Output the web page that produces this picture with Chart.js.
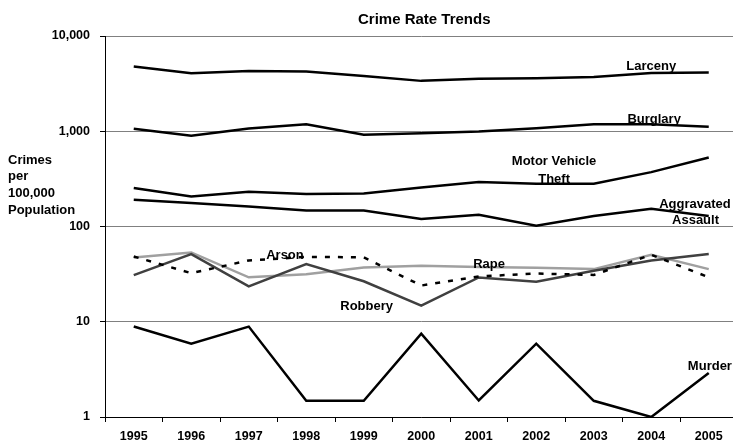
<!DOCTYPE html>
<html>
<head>
<meta charset="utf-8">
<title>Crime Rate Trends</title>
<script src="https://cdn.jsdelivr.net/npm/chart.js@4/dist/chart.umd.min.js"></script>
<style>
  html, body { margin: 0; padding: 0; overflow: hidden; background: #fff; }
  canvas { display: block; }
</style>
</head>
<body>
<canvas id="chart" width="740" height="442"></canvas>
<script>
// Crimes per 100,000 population, 1995-2005
const years = ['1995', '1996', '1997', '1998', '1999', '2000', '2001', '2002', '2003', '2004', '2005'];

const larceny    = [4775, 4070, 4300, 4235, 3810, 3380, 3550, 3610, 3720, 4100, 4130];
const burglary   = [1060, 895, 1067, 1187, 917, 955, 993, 1077, 1187, 1187, 1113];
const motorTheft = [253, 207, 231, 220, 222, 257, 294, 281, 281, 372, 530];
const aggAssault = [191, 176, 162, 147, 147, 120, 133, 102, 129, 154, 129];
const rape       = [47.3, 53.4, 29.3, 31.5, 37.1, 38.7, 37.5, 37.0, 35.7, 50.5, 35.7];
const robbery    = [30.9, 51.3, 23.5, 40.4, 26.6, 14.8, 29.2, 26.3, 34.3, 44.0, 51.3];
const arson      = [48.4, 32.4, 44.0, 48.0, 47.5, 24.0, 29.9, 32.1, 31.0, 50.5, 29.3];
const murder     = [8.9, 5.9, 8.9, 1.48, 1.48, 7.48, 1.49, 5.88, 1.48, 1.0, 2.9];

const yTickValues = [1, 10, 100, 1000, 10000];
const chartTitle = 'Crime Rate Trends';
const yTitleLines = ['Crimes', 'per', '100,000', 'Population'];

// Series name tags, anchored at [category index, value]
const seriesTags = [
  { text: 'Larceny',       at: [9.00, 4775] },
  { text: 'Burglary',      at: [9.05, 1340] },
  { text: 'Motor Vehicle', at: [7.31, 481] },
  { text: 'Theft',         at: [7.31, 309] },
  { text: 'Aggravated',    at: [9.76, 169] },
  { text: 'Assault',       at: [9.77, 115] },
  { text: 'Arson',         at: [2.63, 49.3] },
  { text: 'Rape',          at: [6.18, 40.3] },
  { text: 'Robbery',       at: [4.05, 14.5] },
  { text: 'Murder',        at: [10.02, 3.4] }
];

const FONT = '"Liberation Sans", Arial, Helvetica, sans-serif';

const textPlugin = {
  id: 'crimeText',
  afterDraw(chart) {
    const { ctx, chartArea, scales: { x, y } } = chart;
    ctx.save();
    ctx.fillStyle = '#000';

    // title
    ctx.font = 'bold 15px ' + FONT;
    ctx.textAlign = 'center';
    ctx.textBaseline = 'alphabetic';
    ctx.fillText(chartTitle, (chartArea.left + chartArea.right) / 2 + 3, 24);

    // vertical axis title
    ctx.font = 'bold 13px ' + FONT;
    ctx.textAlign = 'left';
    yTitleLines.forEach((line, i) => ctx.fillText(line, 8, 163.5 + i * 16.8));

    // series tags
    ctx.textAlign = 'center';
    ctx.textBaseline = 'middle';
    for (const t of seriesTags) {
      ctx.fillText(t.text, x.getPixelForValue(t.at[0]), y.getPixelForValue(t.at[1]));
    }
    ctx.restore();
  }
};

function line(label, data, color, extra) {
  return Object.assign({
    label, data,
    borderColor: color,
    backgroundColor: color,
    borderWidth: 2.5,
    pointRadius: 0,
    pointHoverRadius: 0,
    tension: 0,
    fill: false
  }, extra || {});
}

new Chart(document.getElementById('chart'), {
  type: 'line',
  data: {
    labels: years,
    datasets: [
      line('Arson', arson, '#000', { borderDash: [5, 8], borderWidth: 2.5 }),
      line('Larceny', larceny, '#000'),
      line('Burglary', burglary, '#000'),
      line('Motor Vehicle Theft', motorTheft, '#000'),
      line('Aggravated Assault', aggAssault, '#000'),
      line('Robbery', robbery, '#404040'),
      line('Rape', rape, '#a0a0a0'),
      line('Murder', murder, '#000')
    ]
  },
  options: {
    responsive: false,
    animation: false,
    events: [],
    layout: { padding: { top: 36, right: 2.5, bottom: 0, left: 0 } },
    plugins: {
      legend: { display: false },
      title: { display: false },
      tooltip: { enabled: false }
    },
    scales: {
      x: {
        type: 'category',
        offset: true,
        afterFit(scale) { scale.height = 25; },
        grid: {
          offset: true,
          drawOnChartArea: false,
          drawTicks: true,
          tickLength: 5,
          tickColor: '#000',
          tickWidth: 1
        },
        border: { display: true, color: '#000', width: 1 },
        ticks: {
          color: '#000',
          padding: 7,
          maxRotation: 0,
          autoSkip: false,
          font: { family: FONT, size: 12.5, weight: 'bold' }
        }
      },
      y: {
        type: 'logarithmic',
        min: 1,
        max: 10000,
        afterBuildTicks(scale) {
          scale.ticks = yTickValues.map(v => ({ value: v, major: true }));
        },
        afterFit(scale) { scale.width = 105; },
        grid: {
          color: '#808080',
          lineWidth: 1,
          drawTicks: true,
          tickLength: 5,
          tickColor: '#000'
        },
        border: { display: true, color: '#000', width: 1 },
        ticks: {
          color: '#000',
          padding: 10,
          font: { family: FONT, size: 12.5, weight: 'bold' },
          callback: (v) => Number(v).toLocaleString('en-US')
        }
      }
    }
  },
  plugins: [textPlugin]
});
</script>
</body>
</html>
